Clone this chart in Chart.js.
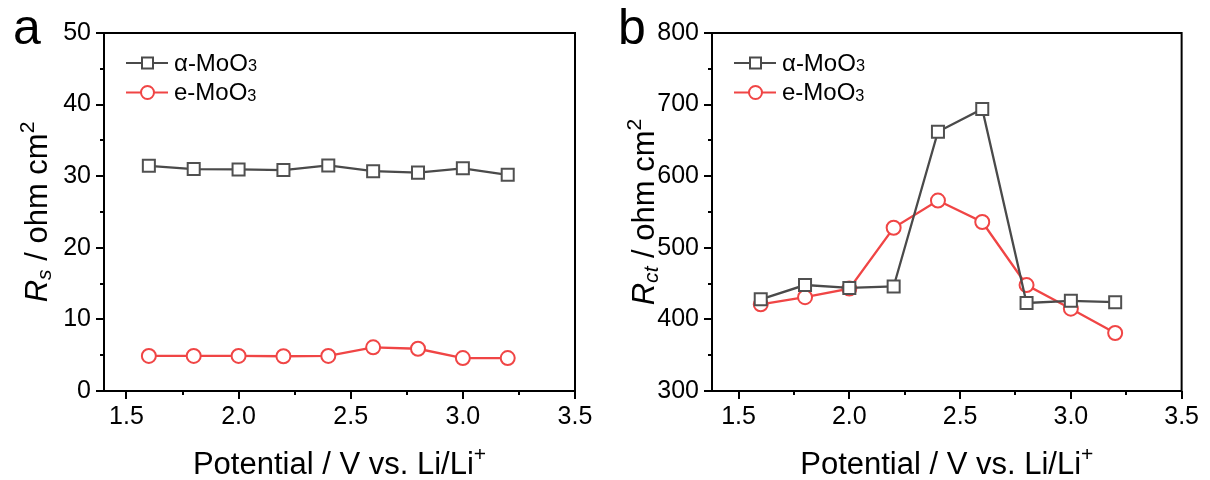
<!DOCTYPE html>
<html>
<head>
<meta charset="utf-8">
<script src="https://cdn.jsdelivr.net/npm/chart.js@4.4.0/dist/chart.umd.min.js"></script>
<style>
    body { margin: 0; background: #fff; }
    .panel { position: absolute; top: 0; width: 605px; height: 480px; }
</style>
</head>
<body>
<div class="panel" style="left:0"><canvas id="chartA" width="605" height="480"></canvas></div>
<div class="panel" style="left:605px"><canvas id="chartB" width="605" height="480"></canvas></div>
<script>
// Data
const potentials = [1.6, 1.8, 2.0, 2.2, 2.4, 2.6, 2.8, 3.0, 3.2];
const rsAlpha = [31.45, 31.0, 30.95, 30.85, 31.5, 30.7, 30.5, 31.1, 30.2];
const rsE = [4.9, 4.9, 4.9, 4.85, 4.9, 6.1, 5.9, 4.6, 4.6];
const rctAlpha = [428, 448, 444, 446, 662, 694, 423, 426, 424];
const rctE = [421, 431, 443, 528, 566, 536, 448, 415, 381];

const xMajorTicks = [1.5, 2.0, 2.5, 3.0, 3.5];
const xMinorTicks = [1.75, 2.25, 2.75, 3.25];
const rsTicks = [0, 10, 20, 30, 40, 50];
const rctTicks = [300, 400, 500, 600, 700, 800];

const seriesNames = ['α-MoO', 'e-MoO'];
const alphaColor = '#4a4a4a';
const eColor = '#f04545';
const FONT = '"Liberation Sans", Arial, sans-serif';

// draw text made of pieces (italic / sub / sup), starting at x
function richText(ctx, parts, x, y, size, align) {
    let widths = parts.map(p => {
        let s = p.sub || p.sup ? size * 0.68 : size;
        ctx.font = (p.it ? 'italic ' : '') + s + 'px ' + FONT;
        return ctx.measureText(p.t).width;
    });
    let total = widths.reduce((a, b) => a + b, 0);
    let cx = align == 'center' ? x - total / 2 : x;
    parts.forEach((p, i) => {
        let s = p.sub || p.sup ? size * 0.68 : size;
        let dy = p.sub ? size * 0.12 : (p.sup ? -size * 0.42 : 0);
        ctx.font = (p.it ? 'italic ' : '') + s + 'px ' + FONT;
        ctx.fillText(p.t, cx, y + dy);
        cx += widths[i];
    });
}

function makeDecor(cfg) {
    return {
        id: 'decor' + cfg.letter,
        afterDraw(chart) {
            const ctx = chart.ctx;
            const area = chart.chartArea;
            const xs = chart.scales.x, ys = chart.scales.y;
            ctx.save();
            ctx.strokeStyle = '#000';
            ctx.lineWidth = 2;
            ctx.strokeRect(area.left, area.top, area.right - area.left, area.bottom - area.top);
            ctx.beginPath();
            xMajorTicks.forEach(v => {
                let px = Math.round(xs.getPixelForValue(v));
                ctx.moveTo(px, area.bottom); ctx.lineTo(px, area.bottom + 8);
            });
            xMinorTicks.forEach(v => {
                let px = Math.round(xs.getPixelForValue(v));
                ctx.moveTo(px, area.bottom); ctx.lineTo(px, area.bottom + 4);
            });
            cfg.yTicks.forEach((v, i) => {
                let py = Math.round(ys.getPixelForValue(v));
                ctx.moveTo(area.left, py); ctx.lineTo(area.left - 8, py);
                if (i < cfg.yTicks.length - 1) {
                    let pm = Math.round(ys.getPixelForValue((v + cfg.yTicks[i + 1]) / 2));
                    ctx.moveTo(area.left, pm); ctx.lineTo(area.left - 4, pm);
                }
            });
            ctx.stroke();

            ctx.fillStyle = '#000';
            ctx.textBaseline = 'alphabetic';
            // x title
            richText(ctx, [{t: 'Potential / V vs. Li/Li'}, {t: '+', sup: true}],
                (area.left + area.right) / 2, 474, 31, 'center');
            // y title
            ctx.save();
            ctx.translate(cfg.titleX, (area.top + area.bottom) / 2);
            ctx.rotate(-Math.PI / 2);
            richText(ctx, cfg.yTitle, 0, 0, 31, 'center');
            ctx.restore();
            // panel letter
            ctx.font = '50px ' + FONT;
            ctx.fillText(cfg.letter, 13, 44);

            // legend
            const rows = [{c: alphaColor, shape: 'rect'}, {c: eColor, shape: 'circle'}];
            rows.forEach((r, i) => {
                let ly = 63 + i * 29.5;
                let lx = area.left + 22;
                ctx.strokeStyle = r.c;
                ctx.lineWidth = 2;
                ctx.beginPath();
                ctx.moveTo(lx, ly); ctx.lineTo(lx + 42, ly);
                ctx.stroke();
                ctx.fillStyle = '#fff';
                ctx.beginPath();
                if (r.shape == 'rect') ctx.rect(lx + 16, ly - 5.5, 11, 11);
                else ctx.arc(lx + 21.5, ly, 6.5, 0, Math.PI * 2);
                ctx.fill(); ctx.stroke();
                ctx.fillStyle = '#000';
                ctx.textBaseline = 'middle';
                richText(ctx, [{t: seriesNames[i]}, {t: '3', sub: true}], lx + 48, ly + 1, 24);
            });
            ctx.restore();
        }
    };
}

function makeChart(id, alpha, eData, yMin, yMax, yTicks, letter, yTitle, xMin, leftW, rightPad, titleX) {
    return new Chart(document.getElementById(id), {
        type: 'line',
        data: {
            datasets: [
                {
                    label: seriesNames[0] + '3',
                    data: potentials.map((x, i) => ({x: x, y: alpha[i]})),
                    borderColor: alphaColor,
                    borderWidth: 2.3,
                    pointStyle: 'rect',
                    pointRadius: 8.5,
                    pointBorderWidth: 2,
                    pointBorderColor: '#505050',
                    pointBackgroundColor: '#fff',
                    tension: 0
                },
                {
                    label: seriesNames[1] + '3',
                    data: potentials.map((x, i) => ({x: x, y: eData[i]})),
                    borderColor: eColor,
                    borderWidth: 2.3,
                    pointStyle: 'circle',
                    pointRadius: 7,
                    pointBorderWidth: 2,
                    pointBorderColor: eColor,
                    pointBackgroundColor: '#fff',
                    tension: 0
                }
            ]
        },
        options: {
            responsive: false,
            animation: false,
            layout: {padding: {left: 0, top: 33, right: rightPad, bottom: 0}},
            scales: {
                x: {
                    type: 'linear',
                    min: xMin,
                    max: 3.5,
                    grid: {display: false, drawTicks: false},
                    border: {display: false},
                    afterBuildTicks: s => { s.ticks = xMajorTicks.map(v => ({value: v})); },
                    afterFit: s => { s.height = 89; },
                    ticks: {
                        autoSkip: false,
                        maxRotation: 0,
                        padding: 11,
                        color: '#000',
                        font: {family: FONT, size: 25},
                        callback: v => v.toFixed(1)
                    }
                },
                y: {
                    min: yMin,
                    max: yMax,
                    grid: {display: false, drawTicks: false},
                    border: {display: false},
                    afterBuildTicks: s => { s.ticks = yTicks.map(v => ({value: v})); },
                    afterFit: s => { s.width = leftW; },
                    ticks: {
                        padding: 13,
                        color: '#000',
                        font: {family: FONT, size: 25}
                    }
                }
            },
            plugins: {
                legend: {display: false},
                tooltip: {enabled: false}
            }
        },
        plugins: [makeDecor({letter: letter, yTicks: yTicks, yTitle: yTitle, titleX: titleX})]
    });
}

makeChart('chartA', rsAlpha, rsE, 0, 50, rsTicks, 'a',
    [{t: 'R', it: true}, {t: 's', it: true, sub: true}, {t: ' / ohm cm'}, {t: '2', sup: true}],
    1.4, 104, 30, 47);
makeChart('chartB', rctAlpha, rctE, 300, 800, rctTicks, 'b',
    [{t: 'R', it: true}, {t: 'ct', it: true, sub: true}, {t: ' / ohm cm'}, {t: '2', sup: true}],
    1.38, 107, 18, 49);
</script>
</body>
</html>
